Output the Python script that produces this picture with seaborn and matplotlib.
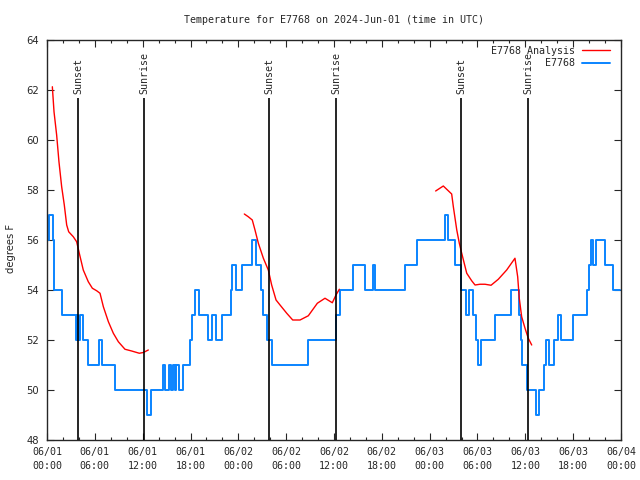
import numpy as np
import pandas as pd
import matplotlib
matplotlib.use('Agg')
import matplotlib.pyplot as plt
from matplotlib.ticker import MultipleLocator
import seaborn as sns

# observations (step change points): hours since 2024-06-01 00:00 UTC, deg F
obs_hours = [0.03, 0.3, 0.7, 0.85, 1.85, 3.65, 3.8, 3.9, 4.15, 4.5, 5.2, 6.55, 6.95, 8.55,
             12.55, 13.05, 14.5, 14.85, 15.3, 15.6, 15.85, 16.05, 16.2, 16.5, 17.0, 17.95,
             18.2, 18.55, 19.05, 20.2, 20.7, 21.2, 21.95, 23.05, 23.2, 23.75, 24.45, 25.7,
             26.2, 26.9, 27.15, 27.6, 28.2, 32.7, 36.3, 36.7, 38.4, 39.9, 40.9, 41.2, 44.95,
             46.45, 49.9, 50.35, 51.15, 51.9, 52.6, 52.9, 53.45, 53.75, 54.1, 54.5, 56.2,
             58.2, 59.15, 59.4, 59.6, 60.2, 61.4, 61.75, 62.35, 62.6, 63.0, 63.6, 64.1,
             64.45, 65.95, 67.75, 68.0, 68.25, 68.45, 68.9, 70.0, 71.0, 71.9]
obs_temp = [56, 57, 56, 54, 53, 52, 53, 52, 53, 52, 51, 52, 51, 50,
            49, 50, 51, 50, 51, 50, 51, 50, 51, 50, 51, 52,
            53, 54, 53, 52, 53, 52, 53, 54, 55, 54, 55, 56,
            55, 54, 53, 52, 51, 52, 53, 54, 55, 54, 55, 54, 55,
            56, 57, 56, 55, 54, 53, 54, 53, 52, 51, 52, 53,
            54, 53, 52, 51, 50, 49, 50, 51, 52, 51, 52, 53,
            52, 53, 54, 55, 56, 55, 56, 55, 54, 54]

# analysis, three separate runs
ana1_hours = [0.67, 0.88, 1.21, 1.5, 1.84, 2.17, 2.47, 2.72, 3.3, 3.72, 4.05, 4.55, 5.18,
              5.69, 6.23, 6.65, 7.07, 7.7, 8.32, 8.95, 9.78, 10.62, 11.58, 12.08, 12.71]
ana1_temp = [62.13, 61.13, 60.2, 59.13, 58.13, 57.4, 56.6, 56.33, 56.13, 55.93, 55.47, 54.8,
             54.33, 54.07, 53.97, 53.87, 53.33, 52.73, 52.27, 51.93, 51.63, 51.56, 51.47,
             51.5, 51.6]
ana2_hours = [24.75, 25.25, 25.75, 26.09, 26.51, 27.14, 27.76, 28.18, 28.73, 29.23, 30.07,
              30.82, 31.74, 32.78, 33.91, 34.87, 35.79, 36.25, 36.67]
ana2_temp = [57.04, 56.93, 56.8, 56.4, 55.87, 55.27, 54.8, 54.2, 53.6, 53.4, 53.07, 52.8,
             52.8, 52.97, 53.47, 53.67, 53.49, 53.8, 54.03]
ana3_hours = [48.75, 49.71, 50.76, 50.97, 51.4, 51.72, 52.02, 52.65, 53.27, 53.69, 54.31,
              54.94, 55.7, 56.61, 57.66, 58.7, 59.04, 59.24, 59.54, 59.96, 60.37, 60.8]
ana3_temp = [57.96, 58.16, 57.84, 57.33, 56.4, 55.87, 55.47, 54.67, 54.37, 54.2, 54.23,
             54.23, 54.19, 54.43, 54.8, 55.27, 54.53, 53.67, 52.93, 52.47, 52.07, 51.8]

sun_hours = [3.93, 12.2, 27.89, 36.29, 51.97, 60.37]
sun_labels = ['Sunset', 'Sunrise', 'Sunset', 'Sunrise', 'Sunset', 'Sunrise']

x_tick_labels = ['06/01\n00:00', '06/01\n06:00', '06/01\n12:00', '06/01\n18:00',
                 '06/02\n00:00', '06/02\n06:00', '06/02\n12:00', '06/02\n18:00',
                 '06/03\n00:00', '06/03\n06:00', '06/03\n12:00', '06/03\n18:00',
                 '06/04\n00:00']

ana = pd.concat([
    pd.DataFrame({'hours': ana1_hours, 'temp': ana1_temp, 'segment': 1}),
    pd.DataFrame({'hours': ana2_hours, 'temp': ana2_temp, 'segment': 2}),
    pd.DataFrame({'hours': ana3_hours, 'temp': ana3_temp, 'segment': 3}),
])
obs = pd.DataFrame({'hours': obs_hours, 'temp': obs_temp})

sns.set_style('ticks')
mono = 'DejaVu Sans Mono'
fs = 7.2

fig = plt.figure(figsize=(6.4, 4.8), dpi=100)
ax = fig.add_axes([47 / 640, 40 / 480, 574 / 640, 400 / 480])

sns.lineplot(data=ana, x='hours', y='temp', units='segment', estimator=None,
             color='#ff0000', lw=1.0, label='E7768 Analysis', ax=ax, zorder=3)
sns.lineplot(data=obs, x='hours', y='temp', drawstyle='steps-post',
             color='#0a84ff', lw=1.4, label='E7768', ax=ax, zorder=2)

# sunrise / sunset markers
ax.vlines(sun_hours, 48, 61.68, color='black', lw=1.2, zorder=4)
for h, lab in zip(sun_hours, sun_labels):
    ax.text(h, 61.85, lab, rotation=90, ha='center', va='bottom',
            family=mono, fontsize=fs)

ax.set_xlim(0, 72)
ax.set_ylim(48, 64)
ax.set_xticks(np.arange(0, 73, 6))
ax.set_xticklabels(x_tick_labels, family=mono, fontsize=fs, linespacing=1.5)
ax.xaxis.set_minor_locator(MultipleLocator(2))
ax.set_yticks(np.arange(48, 65, 2))
for t in ax.get_yticklabels():
    t.set_fontsize(fs)
ax.tick_params(which='both', direction='in', top=True, right=True, width=0.8)
ax.tick_params(which='major', length=5)
ax.tick_params(which='minor', length=2.5)
ax.tick_params(axis='x', pad=5)
ax.tick_params(axis='y', pad=6)
for s in ax.spines.values():
    s.set_linewidth(1.0)
ax.set_xlabel('')
ax.set_ylabel('')

fig.text(334 / 640, 1 - 20 / 480, 'Temperature for E7768 on 2024-Jun-01 (time in UTC)',
         ha='center', va='center', family=mono, fontsize=fs)
fig.text(11 / 640, 1 - 248 / 480, 'degrees F', rotation=90, ha='center', va='center',
         fontsize=fs)

# one legend entry per series
handles, labels = ax.get_legend_handles_labels()
seen = {}
for hd, lb in zip(handles, labels):
    seen.setdefault(lb, hd)
leg = ax.legend(list(seen.values()), list(seen.keys()), loc='upper right',
                bbox_to_anchor=(0.992, 1.0), frameon=False,
                markerfirst=False, handlelength=2.8, handletextpad=0.7,
                labelspacing=0.25, borderaxespad=0.2, prop={'family': mono, 'size': fs})

fig.savefig('out.png', dpi=100)
